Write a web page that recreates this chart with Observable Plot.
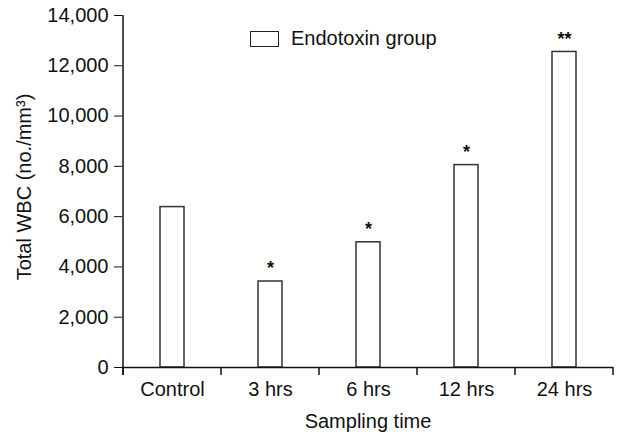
<!DOCTYPE html>
<html>
<head>
<meta charset="utf-8">
<script src="https://cdn.jsdelivr.net/npm/d3@7"></script>
<script src="https://cdn.jsdelivr.net/npm/@observablehq/plot@0.6"></script>
<style>
  html, body { margin: 0; padding: 0; background: #fff; }
  #wrap { position: relative; width: 622px; height: 436px; font-family: "Liberation Sans", Arial, sans-serif; }
  #legend { position: absolute; left: 250px; top: 27px; display: flex; align-items: center; font-size: 20px; color: #111; }
  #legend .sw { width: 27px; height: 14px; border: 1.5px solid #222; box-sizing: content-box; margin-right: 12px; }
</style>
</head>
<body>
<div id="wrap"><div id="legend"><div class="sw"></div><span>Endotoxin group</span></div></div>
<script>
const categories = ["Control", "3 hrs", "6 hrs", "12 hrs", "24 hrs"];
const wbc = [6380, 3420, 4980, 8050, 12550];
const significance = ["", "*", "*", "*", "**"];
const yTicks = [0, 2000, 4000, 6000, 8000, 10000, 12000, 14000];
const yLabel = "Total WBC (no./mm³)";
const xLabel = "Sampling time";

const data = categories.map((c, i) => ({time: c, wbc: wbc[i], sig: significance[i]}));

const chart = Plot.plot({
  width: 622,
  height: 436,
  marginLeft: 122,
  marginRight: 9,
  marginTop: 15,
  marginBottom: 69,
  style: {fontFamily: "Liberation Sans, Arial, sans-serif", fontSize: "20px", color: "#111", background: "transparent"},
  x: {domain: categories, paddingInner: 0.76, paddingOuter: 0.38},
  y: {domain: [0, 14000]},
  marks: [
    Plot.axisY({ticks: yTicks, tickFormat: d3.format(","), tickSize: 8, tickPadding: 6, label: null, fontSize: 20, stroke: "#111"}),
    Plot.axisX({tickSize: 0, tickPadding: 14, label: xLabel, labelAnchor: "center", labelOffset: 60, fontSize: 20}),
    Plot.barY(data, {x: "time", y: "wbc", fill: "white", stroke: "#333", strokeWidth: 1.5}),
    Plot.text(data, {x: "time", y: "wbc", text: "sig", dy: -13, fontSize: 18, fontWeight: "bold", fill: "#111"}),
    Plot.ruleY([0], {stroke: "#111", strokeWidth: 1.5})
  ]
});

// y-axis line, y label and x-axis category boundary ticks, from the chart's own scales
const sx = chart.scale("x");
const sy = chart.scale("y");
const svg = d3.select(chart);
const y0 = sy.apply(0), yTop = sy.apply(14000);
const centers = categories.map(c => sx.apply(c) + sx.bandwidth / 2);
const bounds = centers.map(c => c - sx.step / 2).concat([centers[centers.length - 1] + sx.step / 2]);
const g = svg.append("g").attr("stroke", "#111").attr("stroke-width", 1.5);
g.append("line").attr("x1", bounds[0]).attr("x2", bounds[0]).attr("y1", yTop).attr("y2", y0 + 8);
bounds.forEach(b => g.append("line").attr("x1", b).attr("x2", b).attr("y1", y0).attr("y2", y0 + 8));
svg.append("text")
  .attr("transform", `translate(31,${(y0 + yTop) / 2 - 4}) rotate(-90)`)
  .attr("text-anchor", "middle")
  .attr("font-size", 20)
  .attr("fill", "#111")
  .text(yLabel);

document.getElementById("wrap").prepend(chart);
chart.style.position = "absolute";
chart.style.left = "0";
chart.style.top = "0";
</script>
</body>
</html>
